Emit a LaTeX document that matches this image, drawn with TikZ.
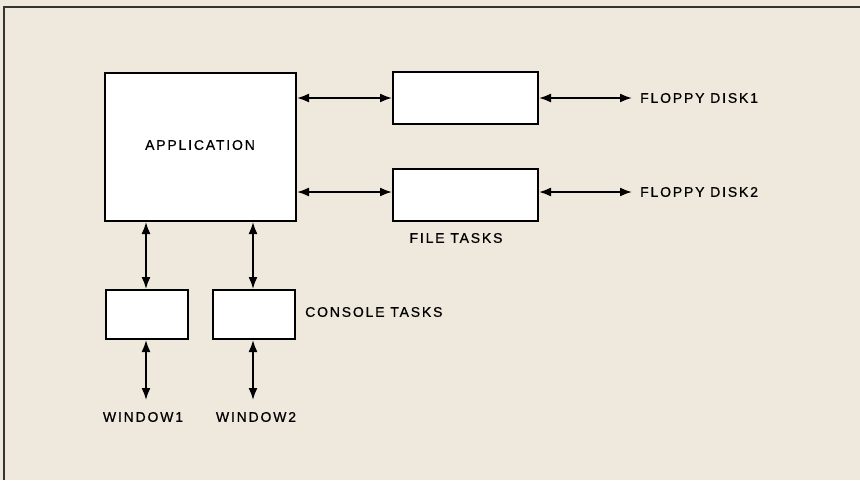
\documentclass[tikz,border=0pt]{standalone}
\usepackage{fontspec}
\setmainfont{Liberation Sans}
\newfontfamily\lblfont[LetterSpace=13,FakeBold=0.6]{Liberation Sans}
\usetikzlibrary{arrows.meta}
\definecolor{paper}{HTML}{EEE8DD}

\begin{document}
\begin{tikzpicture}
[
	x=1pt,y=-1pt,
	taskbox/.style={draw,fill=white,line width=2pt,inner sep=0pt,anchor=north west},
	link/.style={{Latex[length=12pt,width=9pt]}-{Latex[length=12pt,width=9pt]},line width=1.8pt},
	lbl/.style={font=\lblfont\fontsize{14}{16}\selectfont,inner sep=0pt}
]

	% page
	\fill[paper] (0,0) rectangle (860,480);
	\useasboundingbox (0,0) rectangle (860,480);
	\draw[line width=1.2pt,black!80] (4,480) -- (4,7) -- (860,7);

	% boxes
	\node[taskbox,minimum width=191pt,minimum height=148pt] (app) at (104,72) {};
	\node[lbl] at (200,145) {APPLICATION};

	\node[taskbox,minimum width=145pt,minimum height=52pt] (file1) at (392,71) {};
	\node[taskbox,minimum width=145pt,minimum height=52pt] (file2) at (392,168) {};
	\node[lbl] (filetasks) at (456,238) {FILE TASKS};

	\node[taskbox,minimum width=82pt,minimum height=49pt] (con1) at (105,289) {};
	\node[taskbox,minimum width=82pt,minimum height=49pt] (con2) at (212,289) {};
	\node[lbl,anchor=west] (contasks) at (305,312) {CONSOLE TASKS};

	% free ends
	\coordinate (disk1) at (632,98);
	\coordinate (disk2) at (632,192);
	\coordinate (win1) at (146,400);
	\coordinate (win2) at (253,400);

	\node[lbl,anchor=west] at (640,98) {FLOPPY DISK1};
	\node[lbl,anchor=west] at (640,192) {FLOPPY DISK2};
	\node[lbl] at (143,417) {WINDOW1};
	\node[lbl] at (256,417) {WINDOW2};

	% connectors
	\draw[link] (app.east |- 0,98) -- (file1.west |- 0,98);
	\draw[link] (app.east |- 0,192) -- (file2.west |- 0,192);
	\draw[link] (file1.east |- 0,98) -- (disk1);
	\draw[link] (file2.east |- 0,192) -- (disk2);

	\draw[link] (app.south -| win1) -- (con1.north -| win1);
	\draw[link] (app.south -| win2) -- (con2.north -| win2);
	\draw[link] (con1.south -| win1) -- (win1);
	\draw[link] (con2.south -| win2) -- (win2);

\end{tikzpicture}
\end{document}
